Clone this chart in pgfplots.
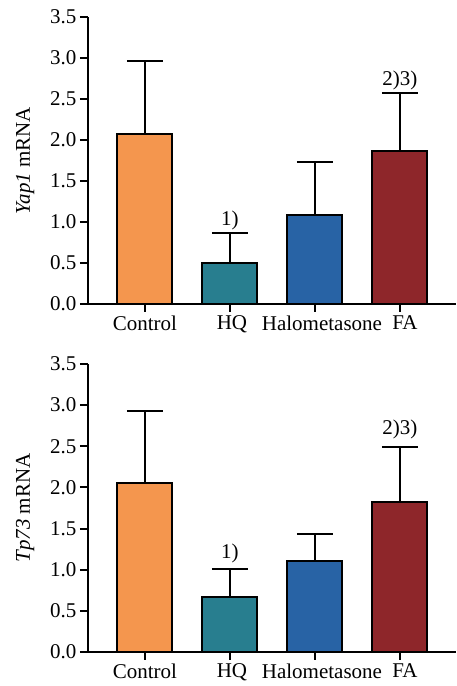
\documentclass[border=0pt]{standalone}
\usepackage{pgfplots}
\pgfplotsset{compat=1.18}
\usepackage{fontspec}
\setmainfont{Liberation Serif}

\definecolor{cctrl}{RGB}{244,150,78}
\definecolor{chq}{RGB}{40,126,143}
\definecolor{chalo}{RGB}{40,99,165}
\definecolor{cfa}{RGB}{142,38,42}

\pgfplotsset{
  panel/.style={
    scale only axis, width=368pt, height=287pt,
    xmin=-0.67, xmax=3.66, ymin=0, ymax=3.5,
    axis lines=left, axis line style={line width=2pt, -},
    ytick={0,0.5,1,1.5,2,2.5,3,3.5},
    yticklabel style={/pgf/number format/.cd, fixed, fixed zerofill, precision=1, assume math mode=true},
    xtick={0,1,2,3},
    xticklabels={Control,\hspace{4pt}HQ,\hspace{14pt}Halometasone,\hspace{10pt}FA},
    tick style={line width=2pt, black}, tick align=outside,
    major tick length=8pt, minor tick num=0,
    font=\fontsize{21}{25}\selectfont,
    every axis y label/.style={at={(axis description cs:-0.171,0.5)}, rotate=90, anchor=center},
    clip=false,
    ybar, bar width=55pt, bar shift=0pt,
  },
  barsty/.style={fill=#1, draw=black, line width=2pt,
    error bars/.cd, y dir=plus, y explicit, error mark=|,
    error mark options={mark size=18pt, line width=2pt, black},
    error bar style={line width=2pt, black}},
}

\begin{document}
\begin{tikzpicture}
\useasboundingbox (0,0) rectangle (456pt,686pt);

% top panel
\begin{axis}[panel, at={(88pt,382pt)}, anchor=south west, ylabel={\textit{Yap1} mRNA}]
\addplot[barsty=cctrl] coordinates {(0,2.07) +- (0,0.89)};
\addplot[barsty=chq] coordinates {(1,0.50) +- (0,0.36)};
\addplot[barsty=chalo] coordinates {(2,1.08) +- (0,0.65)};
\addplot[barsty=cfa] coordinates {(3,1.87) +- (0,0.70)};
\node[anchor=south, inner sep=2pt, yshift=1pt] at (axis cs:1,0.86) {1)};
\node[anchor=south, inner sep=2pt, yshift=1pt] at (axis cs:3,2.57) {2)3)};
\end{axis}

% bottom panel
\begin{axis}[panel, at={(88pt,34pt)}, anchor=south west, height=288pt, ylabel={\textit{Tp73} mRNA}]
\addplot[barsty=cctrl] coordinates {(0,2.05) +- (0,0.88)};
\addplot[barsty=chq] coordinates {(1,0.67) +- (0,0.34)};
\addplot[barsty=chalo] coordinates {(2,1.10) +- (0,0.33)};
\addplot[barsty=cfa] coordinates {(3,1.82) +- (0,0.67)};
\node[anchor=south, inner sep=2pt, yshift=4pt] at (axis cs:1,1.01) {1)};
\node[anchor=south, inner sep=2pt, yshift=6pt] at (axis cs:3,2.49) {2)3)};
\end{axis}
\end{tikzpicture}
\end{document}
